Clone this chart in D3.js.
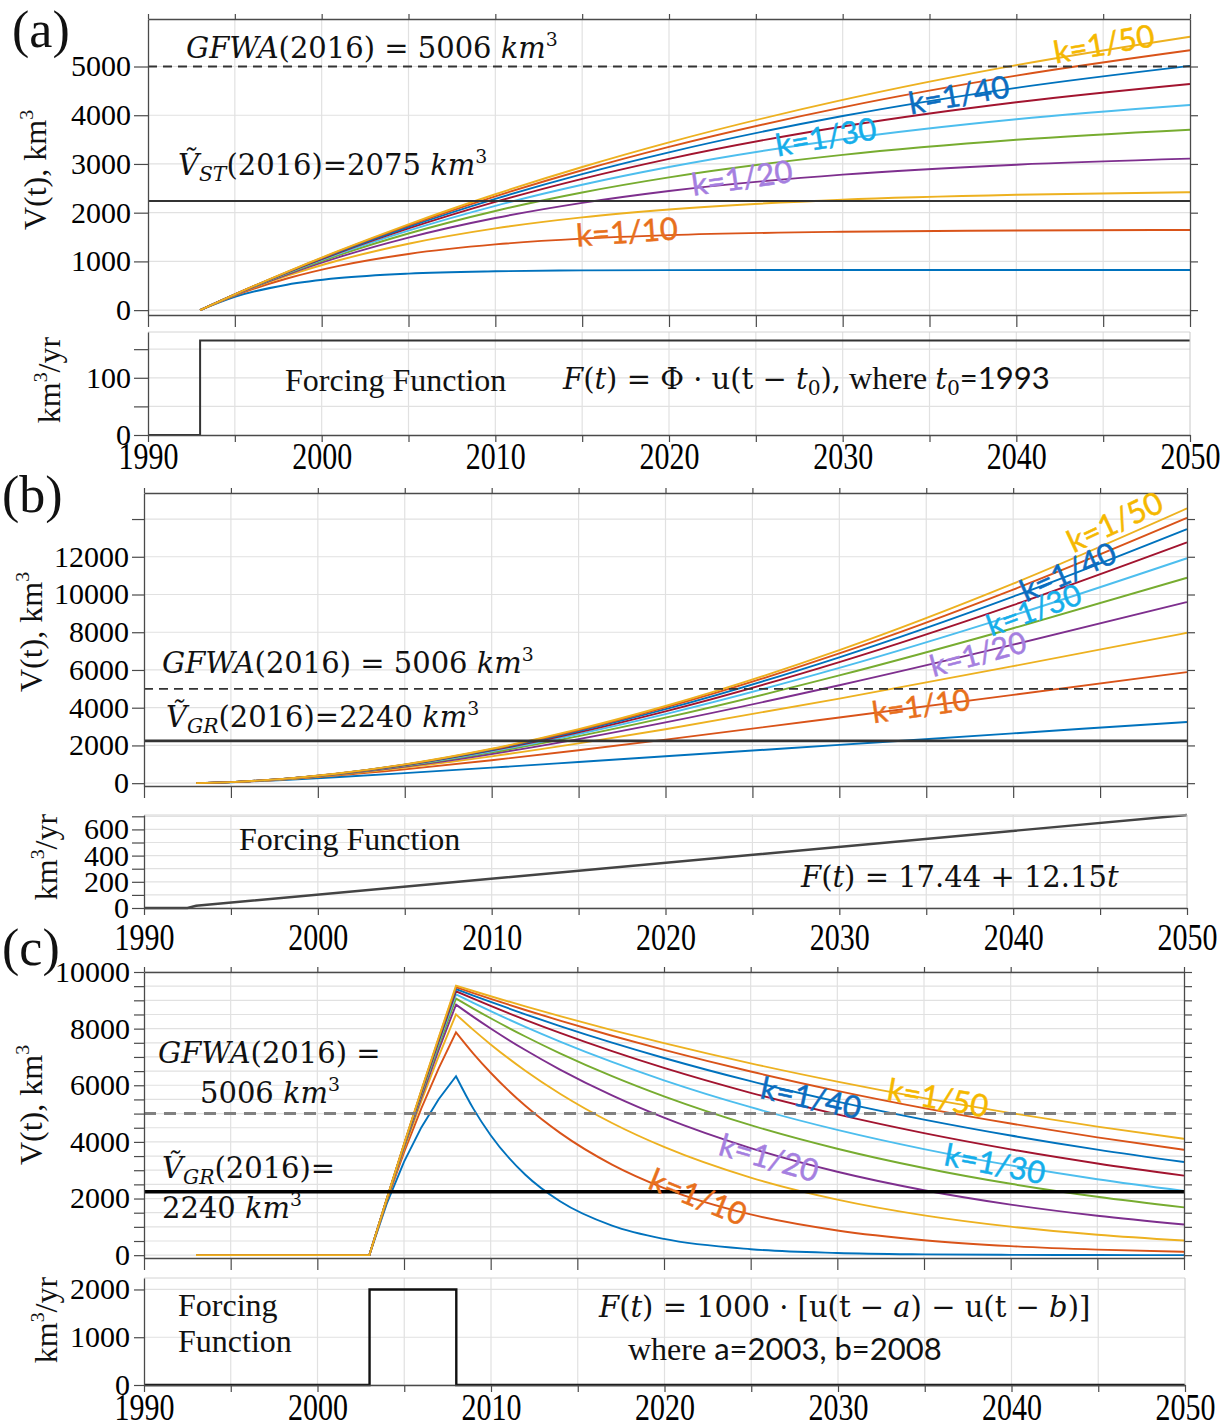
<!DOCTYPE html>
<html><head><meta charset="utf-8">
<script src="https://cdn.jsdelivr.net/npm/d3@7/dist/d3.min.js"></script>
<style>
body{margin:0;background:#fff;}
svg{display:block;}
text{white-space:pre;}
</style></head>
<body>
<svg id="fig" width="1231" height="1428" xmlns="http://www.w3.org/2000/svg"></svg>
<script>
// ================= DATA =================
const kLabels = ["1/5","1/10","1/15","1/20","1/25","1/30","1/35","1/40","1/45","1/50"];
const lineColors = ["#0072BD","#D95319","#EDB120","#7E2F8E","#77AC30","#4DBEEE","#A2142F","#0072BD","#D95319","#EDB120"];

// panel (a): response to step forcing
const yearsA = [1993,1995,1998,2001,2005,2010,2015,2020,2030,2040,2050];
const volumeA = [
  [0,272,521,658,750,797,815,821,825,825,825],
  [0,299,649,909,1153,1349,1467,1539,1609,1635,1645],
  [0,309,702,1023,1363,1678,1904,2066,2265,2367,2420],
  [0,314,730,1088,1489,1890,2201,2445,2781,2985,3109],
  [0,317,748,1130,1572,2035,2414,2724,3186,3496,3703],
  [0,319,760,1159,1632,2141,2573,2937,3508,3917,4209],
  [0,321,769,1180,1676,2222,2695,3105,3769,4267,4642],
  [0,322,776,1197,1711,2285,2792,3239,3983,4562,5013],
  [0,323,781,1210,1738,2336,2871,3350,4162,4812,5333],
  [0,323,785,1220,1761,2378,2937,3443,4314,5028,5612]
];
const forceYearsA = [1990,1993,1993,2050];
const forceA = [0,0,165,165];

// panel (b): response to linear forcing
const yearsB = [1993,1995,1998,2001,2005,2010,2015,2020,2030,2040,2050];
const volumeB = [
  [0,50,167,313,532,823,1123,1425,2031,2639,3246],
  [0,54,198,399,731,1215,1748,2310,3481,4679,5888],
  [0,56,210,436,826,1422,2108,2857,4481,6201,7971],
  [0,57,217,457,881,1548,2337,3219,5189,7340,9600],
  [0,57,221,470,917,1632,2494,3474,5710,8211,10888],
  [0,58,224,478,941,1693,2608,3663,6108,8893,11922],
  [0,58,226,486,960,1738,2695,3808,6420,9440,12766],
  [0,58,228,491,974,1773,2763,3922,6672,9888,13467],
  [0,58,229,495,984,1801,2818,4016,6878,10260,14057],
  [0,58,230,498,995,1824,2863,4092,7051,10574,14560]
];
const forceYearsB = [1990,1992.5,1993,2050];
const forceB = [0,0,17,710];

// panel (c): response to pulse forcing
const yearsC = [1993,2003,2004,2005,2006,2007,2008,2009,2010,2012,2014,2017,2020,2025,2030,2035,2040,2045,2050];
const volumeC = [
  [0,0,1813,3297,4512,5507,6321,5175,4237,2840,1904,1045,573,211,78,29,11,4,1],
  [0,0,1903,3625,5184,6594,7869,7120,6443,5275,4319,3199,2370,1438,872,529,321,195,118],
  [0,0,1935,3745,5438,7024,8504,7956,7443,6513,5700,4667,3821,2738,1962,1406,1007,722,517],
  [0,0,1951,3807,5572,7251,8848,8416,8006,7244,6555,5642,4856,3782,2945,2294,1786,1391,1083],
  [0,0,1961,3844,5654,7393,9063,8708,8366,7723,7129,6323,5608,4591,3759,3078,2520,2063,1689],
  [0,0,1967,3870,5710,7490,9211,8909,8617,8061,7541,6824,6174,5226,4424,3745,3170,2683,2271],
  [0,0,1972,3888,5750,7560,9319,9057,8801,8313,7851,7206,6614,5734,4970,4309,3735,3238,2807],
  [0,0,1975,3902,5781,7613,9400,9168,8942,8505,8091,7506,6964,6145,5423,4786,4224,3727,3289],
  [0,0,1978,3912,5804,7655,9464,9256,9053,8659,8283,7749,7249,6486,5804,5194,4648,4159,3722],
  [0,0,1980,3921,5824,7688,9516,9328,9143,8784,8440,7948,7486,6773,6129,5545,5018,4540,4108]
];
const peakYearC = 2008;
const forceYearsC = [1990,2003,2003,2008,2008,2050];
const forceC = [0,0,2000,2000,0,0];

// reference levels
const gfwaLevel = 5000;
const vstLevel = 2240;
const vgrLevel = 2240;

// ticks
const xTickYears = [1990,1995,2000,2005,2010,2015,2020,2025,2030,2035,2040,2045,2050];
const xLabelYears = [1990,2000,2010,2020,2030,2040,2050];
const yTicksA = [0,1000,2000,3000,4000,5000];
const fTicksA = [0,50,100,150];  const fLabelsA = [0,100];
const yTicksB = [0,2000,4000,6000,8000,10000,12000,14000]; const yLabelsB = [0,2000,4000,6000,8000,10000,12000];
const fTicksB = [0,100,200,300,400,500,600,700]; const fLabelsB = [0,200,400,600];
const yTicksC = [0,500,1000,1500,2000,2500,3000,3500,4000,4500,5000,5500,6000,6500,7000,7500,8000,8500,9000,9500,10000];
const yLabelsC = [0,2000,4000,6000,8000,10000];
const fTicksC = [0,1000,2000];

// ================= DRAWING =================
const SERIF = "'Liberation Serif','Times New Roman',Times,serif";
const MATH = "'DejaVu Serif',serif";
const SANS = "Lato,'Open Sans',sans-serif";
const GRID = "#e1e1e1", AX = "#4a4a4a";
const STRETCH_X = 1.25, STRETCH_Y = 0.95;

const svg = d3.select("#fig");
svg.append("rect").attr("width",1231).attr("height",1428).attr("fill","#fff");

function rich(parent, x, y, size, parts, family) {
  const t = parent.append("text").attr("x",x).attr("y",y).attr("font-size",size)
    .attr("font-family", family || MATH).attr("fill","#111");
  let shift = 0;
  parts.forEach(p => {
    const s = t.append("tspan").text(p.t);
    let want = 0, fs = p.fs || size;
    if (p.sup) { want = -0.42*size; fs = size*0.65; }
    if (p.sub) { want = 0.22*size; fs = size*0.7; }
    if (want - shift !== 0) s.attr("dy", want - shift);
    shift = want;
    if (fs !== size) s.attr("font-size", fs);
    if (p.i) s.attr("font-style","italic");
    if (p.f) s.attr("font-family", p.f);
  });
  return t;
}

function styleAxis(sel, color, fs) {
  sel.attr("font-family",null).attr("font-size",null);
  sel.select(".domain").attr("stroke",color).attr("stroke-width",1.3);
  sel.selectAll(".tick line").attr("stroke",color).attr("stroke-width",1.2);
  sel.selectAll(".tick text").attr("font-family",SERIF).attr("font-size",fs).attr("fill","#000");
}
function stretchLeft(sel) {
  sel.selectAll(".tick text").attr("dy","0.33em").attr("transform",`scale(1,${STRETCH_Y})`);
}
function stretchBottom(sel, base) {
  sel.selectAll(".tick text").attr("y", base/STRETCH_X).attr("dy", null).attr("transform",`scale(1,${STRETCH_X})`);
}

function panel(p) {
  const g = svg.append("g");
  const x = d3.scaleLinear().domain([1990,2050]).range(p.xr);
  const y = d3.scaleLinear().domain(p.yd).range(p.yr);
  g.append("g").selectAll("line").data(xTickYears.slice(1,-1)).join("line")
    .attr("x1",d=>x(d)).attr("x2",d=>x(d)).attr("y1",p.yr[0]).attr("y2",p.yr[1])
    .attr("stroke",GRID).attr("stroke-width",1.2);
  g.append("g").selectAll("line").data(p.grid).join("line")
    .attr("x1",p.xr[0]).attr("x2",p.xr[1]).attr("y1",d=>y(d)).attr("y2",d=>y(d))
    .attr("stroke",GRID).attr("stroke-width",1.2);
  return {g,x,y,p};
}

function mainAxes(P, tl, tp) {
  const {g,x,y,p} = P;
  g.append("g").attr("transform",`translate(${p.xr[0]},0)`)
    .call(d3.axisLeft(y).tickValues(p.ticks).tickSize(tl).tickSizeOuter(0).tickPadding(tp)
      .tickFormat(d => p.labels.includes(d) ? String(d) : ""))
    .call(s => styleAxis(s, AX, 30)).call(stretchLeft);
  g.append("g").attr("transform",`translate(${p.xr[1]},0)`)
    .call(d3.axisRight(y).tickValues(p.ticks).tickSize(8).tickSizeOuter(0).tickFormat(""))
    .call(s => styleAxis(s, AX, 30));
  g.append("g").attr("transform",`translate(0,${p.yr[1]})`)
    .call(d3.axisTop(x).tickValues(xTickYears).tickSize(5).tickSizeOuter(0).tickFormat(""))
    .call(s => styleAxis(s, AX, 30));
  g.append("g").attr("transform",`translate(0,${p.yr[0]})`)
    .call(d3.axisBottom(x).tickValues(xTickYears).tickSize(12).tickSizeOuter(0).tickFormat(""))
    .call(s => styleAxis(s, AX, 30));
}

function forceAxes(P, tl, tp, base) {
  const {g,x,y,p} = P;
  g.append("line").attr("x1",p.xr[0]).attr("x2",p.xr[1]).attr("y1",p.yr[1]).attr("y2",p.yr[1]).attr("stroke","#d4d4d4");
  g.append("line").attr("x1",p.xr[1]).attr("x2",p.xr[1]).attr("y1",p.yr[1]).attr("y2",p.yr[0]).attr("stroke","#c8c8c8");
  g.append("g").attr("transform",`translate(${p.xr[0]},0)`)
    .call(d3.axisLeft(y).tickValues(p.ticks).tickSize(tl).tickSizeOuter(0).tickPadding(tp)
      .tickFormat(d => p.labels.includes(d) ? String(d) : ""))
    .call(s => styleAxis(s, AX, 30)).call(stretchLeft);
  g.append("g").attr("transform",`translate(0,${p.yr[0]})`)
    .call(d3.axisBottom(x).tickValues(xTickYears).tickSize(7).tickSizeOuter(0)
      .tickFormat(d => xLabelYears.includes(d) ? String(d) : ""))
    .call(s => styleAxis(s, AX, 30)).call(s => stretchBottom(s, base));
}

function series(P, years, vols, splitYear) {
  const {g,x,y} = P;
  vols.forEach((v,i) => {
    const pts = years.map((yr,j) => [yr, v[j]]);
    if (splitYear === undefined) {
      g.append("path").attr("d", d3.line().x(d=>x(d[0])).y(d=>y(d[1])).curve(d3.curveMonotoneX)(pts))
        .attr("fill","none").attr("stroke",lineColors[i]).attr("stroke-width",1.9);
    } else {
      const rise = pts.filter(d => d[0] <= splitYear), fall = pts.filter(d => d[0] >= splitYear);
      const path = d3.line().x(d=>x(d[0])).y(d=>y(d[1])).curve(d3.curveLinear)(rise) +
        d3.line().x(d=>x(d[0])).y(d=>y(d[1])).curve(d3.curveMonotoneX)(fall).replace(/^M/,"L");
      g.append("path").attr("d", path).attr("fill","none").attr("stroke",lineColors[i])
        .attr("stroke-width",1.9).attr("stroke-linejoin","miter");
    }
  });
}

function hline(P, val, color, w, dash) {
  const {g,y,p} = P;
  const l = g.append("line").attr("x1",p.xr[0]).attr("x2",p.xr[1]).attr("y1",y(val)).attr("y2",y(val))
    .attr("stroke",color).attr("stroke-width",w);
  if (dash) l.attr("stroke-dasharray",dash);
}

function forceLine(P, xs, vs, color, w) {
  const {g,x,y} = P;
  g.append("path").attr("d", d3.line().x(d=>x(d[0])).y(d=>y(d[1]))(xs.map((a,i)=>[a,vs[i]])))
    .attr("fill","none").attr("stroke",color).attr("stroke-width",w);
}

function kLabel(cx, cy, rot, txt, color, size) {
  svg.append("text").attr("transform",`translate(${cx},${cy}) rotate(${rot})`)
    .attr("text-anchor","middle").attr("dy","0.35em").attr("font-family",SANS)
    .attr("font-size",size).attr("fill",color).attr("stroke",color).attr("stroke-width",0.5)
    .text("k=" + txt);
}

function yTitle(x, y, parts, size) {
  const t = svg.append("text").attr("transform",`translate(${x},${y}) rotate(-90)`)
    .attr("text-anchor","middle").attr("font-family",SERIF).attr("font-size",size).attr("fill","#111");
  let shift = 0;
  parts.forEach(p => {
    const s = t.append("tspan").text(p.t);
    const want = p.sup ? -0.4*size : 0;
    if (want - shift) s.attr("dy", want - shift);
    shift = want;
    if (p.sup) s.attr("font-size", size*0.62);
  });
}

const C = {o:"#E8701C", p:"#A57FE0", lb:"#15AEEA", b:"#0C6DC0", y:"#F5B800"};

// ---------- Panel (a) ----------
const A = panel({xr:[148,1190], yr:[315,19], yd:[-100,5975], grid:yTicksA, ticks:yTicksA, labels:yTicksA});
series(A, yearsA, volumeA);
hline(A, gfwaLevel, "#333", 1.8, "9,6");
hline(A, vstLevel, "#333", 1.8);
mainAxes(A, 14, 3);

const FA = panel({xr:[148,1190], yr:[435,332], yd:[0,180], grid:[50,100,150], ticks:fTicksA, labels:fLabelsA});
forceLine(FA, forceYearsA, forceA, "#333", 2);
forceAxes(FA, 14, 3, 34);

// ---------- Panel (b) ----------
const B = panel({xr:[144,1187], yr:[786,493], yd:[-150,15380], grid:yTicksB, ticks:yTicksB, labels:yLabelsB});
series(B, yearsB, volumeB);
hline(B, gfwaLevel, "#333", 1.8, "9,6");
hline(B, vgrLevel, "#333", 2.6);
mainAxes(B, 12, 3);

const FB = panel({xr:[144,1187], yr:[908,815], yd:[0,710], grid:fTicksB, ticks:fTicksB, labels:fLabelsB});
forceLine(FB, forceYearsB, forceB, "#444", 2.4);
forceAxes(FB, 12, 3, 42);

// ---------- Panel (c) ----------
const Cp = panel({xr:[144,1184], yr:[1258,972], yd:[-100,10000], grid:yTicksC, ticks:yTicksC, labels:yLabelsC});
series(Cp, yearsC, volumeC, peakYearC);
hline(Cp, gfwaLevel, "#808080", 3, "12,8");
hline(Cp, vgrLevel, "#000", 3.5);
mainAxes(Cp, 10, 4);

const FC = panel({xr:[144,1185], yr:[1385,1278], yd:[0,2240], grid:fTicksC, ticks:fTicksC, labels:fTicksC});
forceLine(FC, forceYearsC, forceC, "#111", 2.4);
forceAxes(FC, 10, 4, 35);

// ---------- Texts ----------
svg.append("text").attr("x",12).attr("y",47).attr("font-family",SERIF).attr("font-size",52).attr("fill","#111").text("(a)");
svg.append("text").attr("x",2).attr("y",512).attr("font-family",SERIF).attr("font-size",52).attr("fill","#111").text("(b)");
svg.append("text").attr("x",2).attr("y",965).attr("font-family",SERIF).attr("font-size",52).attr("fill","#111").text("(c)");

const vTitle = [{t:"V(t), km"},{t:"3",sup:1},{t:""}];
const fTitle = [{t:"km"},{t:"3",sup:1},{t:"/yr"}];
yTitle(46,170,vTitle,32); yTitle(60,380,fTitle,32);
yTitle(42,632,vTitle,32); yTitle(57,857,fTitle,32);
yTitle(42,1105,vTitle,32); yTitle(57,1320,fTitle,32);

// panel (a) annotations
rich(svg, 186, 58, 29, [{t:"GFWA",i:1},{t:"(2016) = 5006 "},{t:"km",i:1},{t:"3",sup:1}]);
rich(svg, 178, 175, 29, [{t:"Ṽ",i:1},{t:"ST",i:1,sub:1},{t:"(2016)=2075 "},{t:"km",i:1},{t:"3",sup:1}]);
svg.append("text").attr("x",285).attr("y",391).attr("font-family",SERIF).attr("font-size",32).attr("fill","#111").text("Forcing Function");
rich(svg, 563, 389, 29, [{t:"F",i:1},{t:"("},{t:"t",i:1},{t:") = Φ · u(t − "},{t:"t",i:1},{t:"0",sub:1},{t:"),"},
  {t:" where ",f:SERIF,fs:32},{t:"t",i:1},{t:"0",sub:1},{t:"=1993",f:SANS,fs:31}]);

// panel (b) annotations
rich(svg, 162, 673, 29, [{t:"GFWA",i:1},{t:"(2016) = 5006 "},{t:"km",i:1},{t:"3",sup:1}]);
rich(svg, 166, 727, 29, [{t:"Ṽ",i:1},{t:"GR",i:1,sub:1},{t:"(2016)=2240 "},{t:"km",i:1},{t:"3",sup:1}]);
svg.append("text").attr("x",239).attr("y",850).attr("font-family",SERIF).attr("font-size",32).attr("fill","#111").text("Forcing Function");
rich(svg, 801, 887, 29, [{t:"F",i:1},{t:"("},{t:"t",i:1},{t:") = 17.44 + 12.15"},{t:"t",i:1}]);

// panel (c) annotations
rich(svg, 158, 1063, 29, [{t:"GFWA",i:1},{t:"(2016) ="}]);
rich(svg, 200, 1103, 29, [{t:"5006 "},{t:"km",i:1},{t:"3",sup:1}]);
rich(svg, 162, 1178, 29, [{t:"Ṽ",i:1},{t:"GR",i:1,sub:1},{t:"(2016)="}]);
rich(svg, 162, 1218, 29, [{t:"2240 "},{t:"km",i:1},{t:"3",sup:1}]);
svg.append("text").attr("x",178).attr("y",1316).attr("font-family",SERIF).attr("font-size",32).attr("fill","#111").text("Forcing");
svg.append("text").attr("x",178).attr("y",1352).attr("font-family",SERIF).attr("font-size",32).attr("fill","#111").text("Function");
rich(svg, 599, 1317, 29, [{t:"F",i:1},{t:"("},{t:"t",i:1},{t:") = 1000 · [u(t − "},{t:"a",i:1},{t:") − u(t − "},{t:"b",i:1},{t:")]"}]);
rich(svg, 628, 1360, 32, [{t:"where ",f:SERIF},{t:"a=2003, b=2008",f:SANS,fs:31}]);

// k labels
kLabel(627,232,-4,kLabels[1],C.o,31);
kLabel(742,178,-8,kLabels[3],C.p,31);
kLabel(826,137,-10,kLabels[5],C.lb,31);
kLabel(959,95,-10,kLabels[7],C.b,31);
kLabel(1104,44,-10,kLabels[9],C.y,31);

kLabel(1115,522,-25,kLabels[9],C.y,31);
kLabel(1068,572,-24,kLabels[7],C.b,31);
kLabel(1034,610,-20,kLabels[5],C.lb,30);
kLabel(978,654,-15,kLabels[3],C.p,30);
kLabel(921,706,-8,kLabels[1],C.o,30);

kLabel(811,1098,12,kLabels[7],C.b,31);
kLabel(938,1098,10,kLabels[9],C.y,31);
kLabel(769,1158,16,kLabels[3],C.p,31);
kLabel(995,1164,11,kLabels[5],C.lb,31);
kLabel(698,1197,22,kLabels[1],C.o,31);
</script>
</body></html>
